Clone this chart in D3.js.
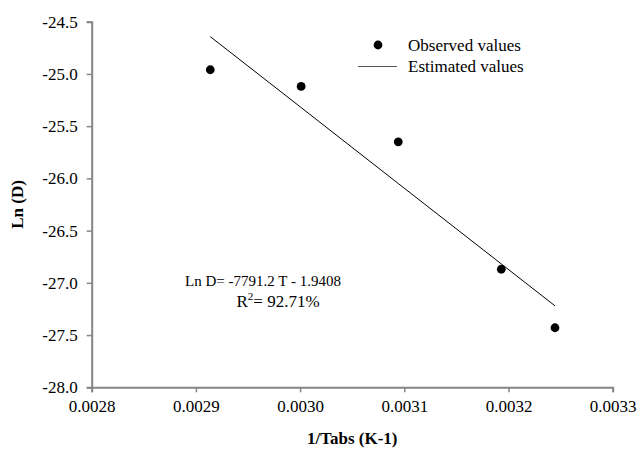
<!DOCTYPE html>
<html>
<head>
<meta charset="utf-8">
<script src="https://cdn.jsdelivr.net/npm/d3@7"></script>
<style>
    body { margin: 0; background: #fff; }
    svg text { font-family: "Liberation Serif", "Times New Roman", serif; }
</style>
</head>
<body>
<div id="chart"></div>
<script>
// 1/Tabs values and observed Ln(D)
var invT = [0.0029138, 0.0030010, 0.0030942, 0.0031931, 0.0032446];
var observed = [-24.96, -25.12, -25.65, -26.87, -27.43];
// fitted line values at the same x
var estimated = [-24.643, -25.322, -26.049, -26.819, -27.220];
var xTicks = [0.0028, 0.0029, 0.0030, 0.0031, 0.0032, 0.0033];
var yTicks = [-24.5, -25.0, -25.5, -26.0, -26.5, -27.0, -27.5, -28.0];
var legendLabels = ["Observed values", "Estimated values"];

var width = 637, height = 450;
var margin = { top: 21.7, right: 24.3, bottom: 62.7, left: 91.7 };
var w = width - margin.left - margin.right;
var h = height - margin.top - margin.bottom;

var svg = d3.select("#chart")
    .append("svg")
    .attr("width", width)
    .attr("height", height);

var g = svg.append("g")
    .attr("transform", "translate(" + margin.left + "," + margin.top + ")");

var xScale = d3.scaleLinear().domain([0.0028, 0.0033]).range([0, w]);
var yScale = d3.scaleLinear().domain([-28.0, -24.5]).range([h, 0]);

var axisColor = "#858585";
var hyphen = function(fmt) {
    return function(d) { return fmt(d).replace("\u2212", "-"); };
};

var xAxis = g.append("g")
    .attr("transform", "translate(0," + h + ")")
    .call(d3.axisBottom(xScale)
        .tickValues(xTicks)
        .tickSize(5)
        .tickPadding(8)
        .tickFormat(d3.format(".4f")));

var yAxis = g.append("g")
    .call(d3.axisLeft(yScale)
        .tickValues(yTicks)
        .tickSize(5)
        .tickPadding(9)
        .tickFormat(hyphen(d3.format(".1f"))));

[xAxis, yAxis].forEach(function(ax) {
    ax.attr("font-family", "'Liberation Serif', serif");
    ax.select(".domain").attr("stroke", axisColor).attr("stroke-width", 2);
    ax.selectAll(".tick line").attr("stroke", axisColor).attr("stroke-width", 1.5);
    ax.selectAll(".tick text")
        .attr("fill", "#000")
        .style("font-size", "17px");
});

// estimated (fitted) line
var line = d3.line()
    .x(function(d, i) { return xScale(invT[i]); })
    .y(function(d) { return yScale(d); });

g.append("path")
    .datum(estimated)
    .attr("d", line)
    .attr("fill", "none")
    .attr("stroke", "#000")
    .attr("stroke-width", 1);

// observed points
g.selectAll(".obs")
    .data(observed)
    .enter()
    .append("circle")
    .attr("class", "obs")
    .attr("cx", function(d, i) { return xScale(invT[i]); })
    .attr("cy", function(d) { return yScale(d); })
    .attr("r", 4.4)
    .attr("fill", "#000");

// legend
var legend = svg.append("g").attr("transform", "translate(358,45)");
legend.append("circle").attr("cx", 20).attr("cy", 0).attr("r", 4.4).attr("fill", "#000");
legend.append("line")
    .attr("x1", 0).attr("x2", 39)
    .attr("y1", 21.5).attr("y2", 21.5)
    .attr("stroke", "#555").attr("stroke-width", 1);
legend.selectAll(".leg-text")
    .data(legendLabels)
    .enter()
    .append("text")
    .attr("x", 50)
    .attr("y", function(d, i) { return i * 21.5; })
    .attr("dy", "0.35em")
    .style("font-size", "17px")
    .text(function(d) { return d; });

// regression equation
svg.append("text")
    .attr("x", 263)
    .attr("y", 286)
    .style("text-anchor", "middle")
    .style("font-size", "15px")
    .text("Ln D= -7791.2 T - 1.9408");
var r2 = svg.append("text")
    .attr("x", 278)
    .attr("y", 307)
    .style("text-anchor", "middle")
    .style("font-size", "17px");
r2.append("tspan").text("R");
r2.append("tspan").attr("dy", -7).style("font-size", "11px").text("2");
r2.append("tspan").attr("dy", 7).text("= 92.71%");

// axis titles
svg.append("text")
    .attr("x", margin.left + w / 2)
    .attr("y", 444)
    .style("text-anchor", "middle")
    .style("font-weight", "bold")
    .style("font-size", "17px")
    .text("1/Tabs (K-1)");
svg.append("text")
    .attr("transform", "translate(23," + (margin.top + h / 2) + ")rotate(-90)")
    .style("text-anchor", "middle")
    .style("font-weight", "bold")
    .style("font-size", "17px")
    .text("Ln (D)");
</script>
</body>
</html>
